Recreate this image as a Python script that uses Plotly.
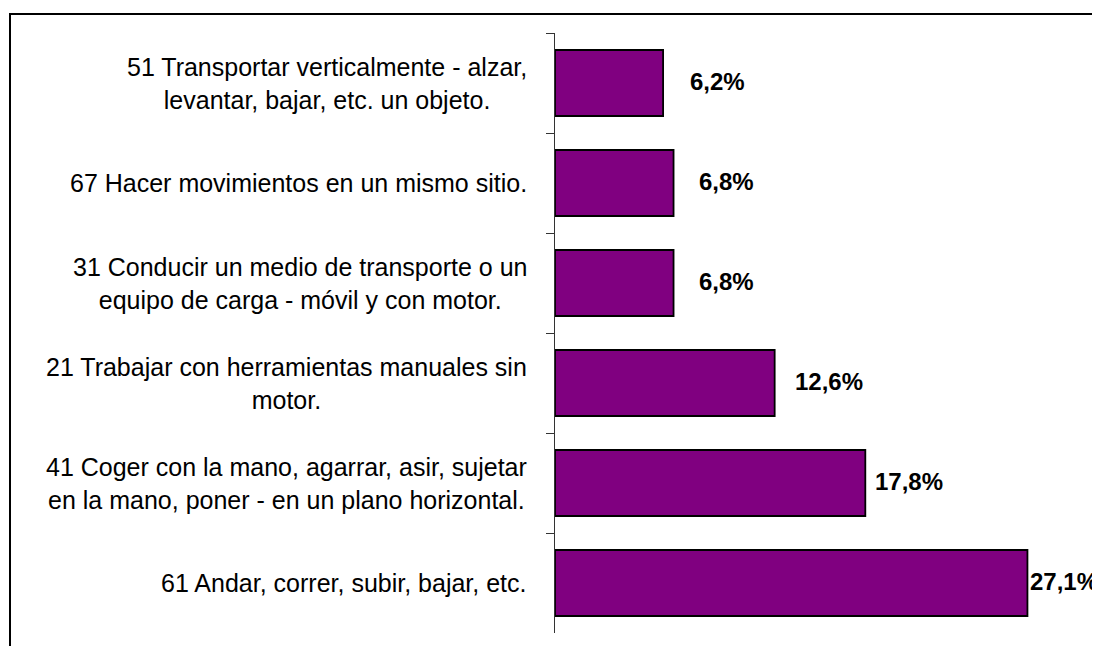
import plotly.graph_objects as go

# ---- data (top to bottom as shown) ----
categories = [
    "51 Transportar verticalmente - alzar,<br>levantar, bajar, etc. un objeto.",
    "67 Hacer movimientos en un mismo sitio.",
    "31 Conducir un medio de transporte o un<br>equipo de carga - móvil y con motor.",
    "21 Trabajar con herramientas manuales sin<br>motor.",
    "41 Coger con la mano, agarrar, asir, sujetar<br>en la mano, poner - en un plano horizontal.",
    "61 Andar, correr, subir, bajar, etc.",
]
values = [6.2, 6.8, 6.8, 12.6, 17.8, 27.1]
value_labels = ["6,2%", "6,8%", "6,8%", "12,6%", "17,8%", "27,1%"]

# ---- style / layout ----
# the page body adds an 8px offset, so the figure is drawn 8px smaller
OFF = 8
W, H = 1100 - OFF, 646 - OFF
ML, MR, MT, MB = 555 - OFF, 22, 33 - OFF, 13
label_shift = [25, 23, 23, 18, 8, 1]
FONT = "Liberation Sans, Arial, sans-serif"
PURPLE = "#800080"

pw = W - ML - MR
ph = H - MT - MB


def px_x(p):  # page pixel -> paper coordinate
    return (p - OFF - ML) / pw


def px_y(p):
    return (H - MB - (p - OFF)) / ph


cat_ids = [f"c{i}" for i in range(len(categories))]

fig = go.Figure()
fig.add_trace(go.Bar(
    y=cat_ids,
    x=values,
    orientation="h",
    marker=dict(color=PURPLE, line=dict(color="black", width=1.8)),
    hoverinfo="skip",
))

annotations = []
for cid, cat in zip(cat_ids, categories):
    annotations.append(dict(
        x=0, xref="paper", y=cid, yref="y",
        text=cat, showarrow=False,
        xanchor="right", yanchor="middle", align="center",
        xshift=-26,
        font=dict(family=FONT, size=25, color="black"),
    ))
for cid, v, lab, sh in zip(cat_ids, values, value_labels, label_shift):
    annotations.append(dict(
        x=v, xref="x", y=cid, yref="y",
        text=lab, showarrow=False,
        xanchor="left", yanchor="middle",
        xshift=sh, yshift=2,
        font=dict(family=FONT, size=24, color="black", weight="bold"),
    ))

fig.update_layout(
    width=W, height=H,
    margin=dict(l=ML, r=MR, t=MT, b=MB, pad=0),
    paper_bgcolor="white",
    plot_bgcolor="white",
    showlegend=False,
    bargap=0.34,
    annotations=annotations,
    shapes=[dict(
        type="rect", xref="paper", yref="paper",
        x0=px_x(10), x1=px_x(1095.5), y0=px_y(680), y1=px_y(14),
        line=dict(color="black", width=2), fillcolor="rgba(0,0,0,0)",
        layer="above",
    )],
    xaxis=dict(
        range=[0, 30], showgrid=False, zeroline=False,
        showticklabels=False, ticks="", showline=False, fixedrange=True,
    ),
    yaxis=dict(
        type="category", categoryorder="array", categoryarray=cat_ids,
        autorange="reversed",
        showgrid=False, zeroline=False, showticklabels=False,
        ticks="outside", tickson="boundaries", ticklen=8,
        tickcolor="#333333", tickwidth=1,
        showline=True, linecolor="#333333", linewidth=1,
        fixedrange=True,
    ),
)

fig.write_html("out.html", config={"displayModeBar": False})
